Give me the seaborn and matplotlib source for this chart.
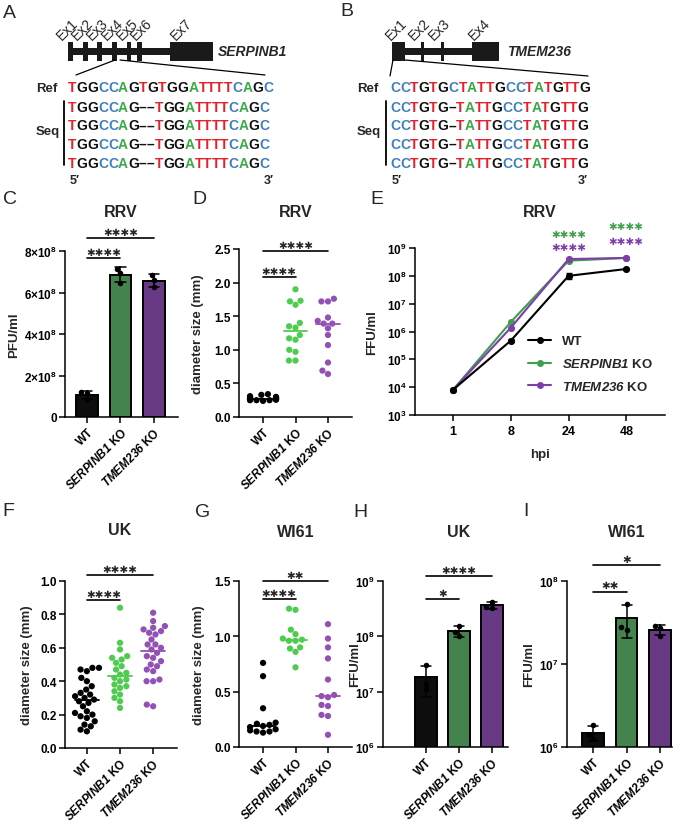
"""
Рисунок: нокаут SERPINB1 / TMEM236 и репликация вирусов (панели A-I)
"""

import warnings
import numpy as np
import pandas as pd
import matplotlib
matplotlib.use('Agg')
import matplotlib.pyplot as plt
import matplotlib.transforms as mtransforms
from matplotlib.lines import Line2D
from matplotlib.patches import Rectangle
from matplotlib.ticker import NullLocator
import seaborn as sns
warnings.filterwarnings('ignore')

# ---------------- данные ----------------
groups = ['WT', 'SERPINB1 KO', 'TMEM236 KO']
group_labels = ['WT', r'$\mathbfit{SERPINB1}$ KO', r'$\mathbfit{TMEM236}$ KO']

# A, B: референс и результаты секвенирования
serpinb1_ref = 'TGGCCAGTGTGGATTTTCAGC'
serpinb1_reads = ['TGGCCAG––TGGATTTTCAGC'] * 4
tmem236_ref = 'CCTGTGCTATTGCCTATGTTG'
tmem236_reads = ['CCTGTG–TATTGCCTATGTTG'] * 4

# C: RRV, PFU/ml
rrv_pfu_wt = [1.20e8, 1.15e8, 0.85e8]
rrv_pfu_serpinb1 = [7.15e8, 6.95e8, 6.45e8]
rrv_pfu_tmem236 = [6.85e8, 6.60e8, 6.25e8]

# D: RRV, диаметр бляшек (мм)
rrv_plaque_wt = [0.24, 0.25, 0.25, 0.25, 0.26, 0.26, 0.26, 0.27, 0.27, 0.27,
                 0.28, 0.28, 0.29, 0.29, 0.30, 0.31, 0.33, 0.34]
rrv_plaque_serpinb1 = [1.90, 1.67, 1.72, 1.73, 1.35, 1.40, 1.33, 1.17, 1.22,
                       1.15, 1.00, 0.97, 0.84, 0.84]
rrv_plaque_tmem236 = [1.76, 1.72, 1.72, 1.48, 1.43, 1.39, 1.39, 1.32, 1.22,
                      1.07, 0.81, 0.69, 0.64]

# E: кривая роста RRV, FFU/ml
hpi = ['1', '8', '24', '48']
rrv_growth_wt = [8.1e3, 4.7e5, 1.0e8, 1.76e8]
rrv_growth_wt_sd = [0.0, 0.6e5, 2.2e7, 1.2e7]
rrv_growth_serpinb1 = [8.1e3, 2.2e6, 3.5e8, 4.4e8]
rrv_growth_tmem236 = [8.1e3, 1.37e6, 4.0e8, 4.4e8]

# F: UK, диаметр бляшек (мм)
uk_plaque_wt = [0.48, 0.48, 0.47, 0.46, 0.42, 0.40, 0.37, 0.35, 0.33, 0.32,
                0.31, 0.30, 0.29, 0.28, 0.27, 0.25, 0.22, 0.21, 0.20, 0.19,
                0.18, 0.16, 0.14, 0.13, 0.11, 0.10]
uk_plaque_serpinb1 = [0.84, 0.63, 0.59, 0.55, 0.54, 0.53, 0.51, 0.49, 0.47,
                      0.45, 0.44, 0.42, 0.41, 0.40, 0.38, 0.37, 0.36, 0.34,
                      0.32, 0.30, 0.28, 0.24]
uk_plaque_tmem236 = [0.81, 0.76, 0.73, 0.72, 0.71, 0.70, 0.69, 0.68, 0.65,
                     0.62, 0.62, 0.60, 0.59, 0.57, 0.55, 0.54, 0.52, 0.50,
                     0.49, 0.47, 0.46, 0.41, 0.40, 0.40, 0.26, 0.25]

# G: WI61, диаметр бляшек (мм)
wi61_plaque_wt = [0.76, 0.64, 0.35, 0.22, 0.21, 0.20, 0.19, 0.18, 0.16,
                  0.15, 0.14, 0.14, 0.13]
wi61_plaque_serpinb1 = [1.24, 1.25, 1.06, 1.02, 0.98, 0.97, 0.96, 0.96,
                        0.90, 0.89, 0.86, 0.72]
wi61_plaque_tmem236 = [1.11, 0.98, 0.90, 0.80, 0.61, 0.47, 0.46, 0.45,
                       0.38, 0.37, 0.29, 0.28, 0.11]

# H: UK, FFU/ml
uk_ffu_wt = [3.0e7, 1.4e7, 1.1e7]
uk_ffu_serpinb1 = [1.55e8, 1.20e8, 1.02e8]
uk_ffu_tmem236 = [4.2e8, 3.4e8, 3.3e8]

# I: WI61, FFU/ml
wi61_ffu_wt = [1.82e6, 1.40e6, 1.25e6]
wi61_ffu_serpinb1 = [5.3e7, 2.8e7, 2.6e7]
wi61_ffu_tmem236 = [2.88e7, 2.70e7, 2.19e7]

# ---------------- стиль ----------------
bar_colors = {'WT': '#0d0d0d', 'SERPINB1 KO': '#3a8c47', 'TMEM236 KO': '#6b2d90'}
dot_colors = {'WT': '#000000', 'SERPINB1 KO': '#4fcc50', 'TMEM236 KO': '#9350b5'}
line_colors = {'WT': '#000000', 'SERPINB1 KO': '#3f9f4e', 'TMEM236 KO': '#7d3fa8'}
nt_colors = {'T': '#e5202a', 'C': '#3f7fc1', 'A': '#3aaa48', 'G': '#111111'}
nt_width = {'T': .611, 'G': .778, 'C': .722, 'A': .722, '–': .556}

sns.set_theme(style='ticks')
plt.rcParams['font.family'] = ['Liberation Sans', 'DejaVu Sans']
plt.rcParams.update({
    'mathtext.fontset': 'custom',
    'mathtext.rm': 'Liberation Sans',
    'mathtext.it': 'Liberation Sans:italic',
    'mathtext.bf': 'Liberation Sans:bold',
    'mathtext.bfit': 'Liberation Sans:italic:bold',
    'axes.linewidth': 1.1,
    'axes.edgecolor': 'black',
    'xtick.major.width': 1.1,
    'ytick.major.width': 1.1,
    'xtick.major.size': 4,
    'ytick.major.size': 4,
    'xtick.color': 'black',
    'ytick.color': 'black',
})

W, H = 685, 828
fig = plt.figure(figsize=(W / 100, H / 100), dpi=100)

# холст в пикселях для панелей A/B и букв
canvas = fig.add_axes([0, 0, 1, 1])
canvas.set_xlim(0, W)
canvas.set_ylim(H, 0)
canvas.axis('off')


def add_panel(x0, y0, x1, y1):
    return fig.add_axes([x0 / W, 1 - y1 / H, (x1 - x0) / W, (y1 - y0) / H])


def long_df(wt, serp, tmem):
    vals = [wt, serp, tmem]
    return pd.DataFrame({
        'group': np.repeat(groups, [len(v) for v in vals]),
        'value': np.concatenate(vals),
    })


def pow_label(base, exp):
    if base is None:
        return r'$\mathbf{10}^{\mathbf{%d}}$' % exp
    return r'%d×$\mathbf{10}^{\mathbf{%d}}$' % (base, exp)


def stars(n):
    return '✱' * n


def sig(ax, x1, x2, y, n):
    ax.plot([x1, x2], [y, y], color='black', lw=1.2, clip_on=False)
    ax.annotate(stars(n), xy=((x1 + x2) / 2, y), xytext=(0, 1),
                textcoords='offset points', ha='center', va='bottom',
                fontsize=7.5, fontfamily='DejaVu Sans', annotation_clip=False)


def finish(ax, title, title_y, ylabel, label_x, yticks, yticklabels, ylim, xlim):
    sns.despine(ax=ax)
    ax.set_xlim(*xlim)
    ax.set_ylim(*ylim)
    ax.set_yticks(yticks)
    ax.set_yticklabels(yticklabels, fontsize=8.5, fontweight='bold')
    ax.yaxis.set_minor_locator(NullLocator())
    ax.set_xticks(range(3))
    ax.set_xticklabels(group_labels, rotation=45, ha='right',
                       rotation_mode='anchor', fontsize=8.5, fontweight='bold')
    ax.set_xlabel('')
    ax.set_ylabel(ylabel, fontsize=9.5, fontweight='bold')
    ax.yaxis.set_label_coords(label_x, 0.5)
    ax.tick_params(axis='x', pad=2)
    ax.tick_params(axis='y', pad=2)
    trans = mtransforms.blended_transform_factory(ax.transData, ax.transAxes)
    ax.text(1, title_y, title, transform=trans, ha='center', va='center',
            fontsize=11.5, fontweight='bold')


def bar_panel(ax, wt, serp, tmem, log=False):
    df = long_df(wt, serp, tmem)
    sns.barplot(data=df, x='group', y='value', hue='group', order=groups,
                hue_order=groups, palette=bar_colors, errorbar='sd',
                capsize=0.3, err_kws={'color': 'black', 'linewidth': 1.1},
                edgecolor='black', linewidth=1.4, width=0.65, legend=False, ax=ax)
    if log:
        ax.set_yscale('log')
    sns.swarmplot(data=df, x='group', y='value', order=groups, color='black',
                  size=4, ax=ax)


def dot_panel(ax, wt, serp, tmem):
    df = long_df(wt, serp, tmem)
    sns.swarmplot(data=df, x='group', y='value', hue='group', order=groups,
                  hue_order=groups, palette=dot_colors, size=4.5, legend=False, ax=ax)
    med = df.groupby('group')['value'].median()
    for i, g in enumerate(groups):
        ax.plot([i - 0.36, i + 0.36], [med[g], med[g]], color=dot_colors[g], lw=1.3)


# ---------------- A, B ----------------
def draw_seq(x, y, seq, size=10):
    em = size * 100 / 72
    for ch in seq:
        canvas.text(x, y, ch, color=nt_colors.get(ch, '#111111'), fontsize=size,
                    fontweight='bold', ha='left', va='baseline')
        x += nt_width[ch] * em


def draw_gene(exons, label_x, names, gene, gene_x, zoom_lines, ref, reads,
              x_seq, x_lbl, x_bar, x3):
    canvas.add_patch(Rectangle((exons[0][0], 48.5), exons[-1][1] - exons[0][0], 7.5,
                               color='#1a1a1a', lw=0))
    for (a, b), lx, nm in zip(exons, label_x, names):
        canvas.add_patch(Rectangle((a, 43), b - a, 19, color='#1a1a1a', lw=0))
        canvas.text(lx, 41, nm, rotation=45, rotation_mode='anchor', ha='left',
                    va='baseline', fontsize=10)
    canvas.text(gene_x, 52, gene, fontsize=10, fontweight='bold', fontstyle='italic',
                va='center', ha='left')
    for (xa, ya), (xb, yb) in zoom_lines:
        canvas.plot([xa, xb], [ya, yb], color='black', lw=0.9)
    canvas.text(x_lbl, 92, 'Ref', fontsize=9.5, fontweight='bold', va='baseline')
    draw_seq(x_seq, 92, ref)
    for k, r in enumerate(reads):
        draw_seq(x_seq, 112 + k * 18.5, r)
    canvas.text(x_lbl, 135, 'Seq', fontsize=9.5, fontweight='bold', va='baseline')
    canvas.plot([x_bar, x_bar], [102, 166], color='black', lw=1.3)
    canvas.text(x_seq + 2, 184, '5′', fontsize=9, fontweight='bold', va='baseline')
    canvas.text(x3, 184, '3′', fontsize=9, fontweight='bold', va='baseline')


draw_gene([(68, 73), (83, 88), (97, 102), (112, 117), (127, 131), (137, 142), (170, 213)],
          [62, 77, 92, 107, 122, 136, 176],
          ['Ex1', 'Ex2', 'Ex3', 'Ex4', 'Ex5', 'Ex6', 'Ex7'],
          'SERPINB1', 218,
          [((115, 61), (76, 76)), ((120, 61), (265, 76))],
          serpinb1_ref, serpinb1_reads, 68, 36, 64, 264)

draw_gene([(392, 405), (421, 424), (441, 444), (472, 499)],
          [391, 414, 434, 474],
          ['Ex1', 'Ex2', 'Ex3', 'Ex4'],
          'TMEM236', 507,
          [((393, 61), (390, 77)), ((405, 61), (588, 77))],
          tmem236_ref, tmem236_reads, 390, 357, 386, 578)

for letter, (x, y) in {'A': (3, 13), 'B': (340, 12), 'C': (3, 200), 'D': (192, 200),
                       'E': (370, 200), 'F': (2, 512), 'G': (195, 513),
                       'H': (353, 513), 'I': (523, 512)}.items():
    canvas.text(x, y, letter, fontsize=14, va='center', ha='left')

# ---------------- C ----------------
ax = add_panel(65, 252, 178, 418)
bar_panel(ax, rrv_pfu_wt, rrv_pfu_serpinb1, rrv_pfu_tmem236)
finish(ax, 'RRV', 1.24, 'PFU/ml', -0.40,
       [0, 2e8, 4e8, 6e8, 8e8], ['0'] + [pow_label(b, 8) for b in (2, 4, 6, 8)],
       (0, 8e8), (-0.66, 2.72))
sig(ax, 0, 2, 8.63e8, 4)
sig(ax, 0, 1, 7.66e8, 4)

# ---------------- D ----------------
ax = add_panel(239, 250, 352, 418)
dot_panel(ax, rrv_plaque_wt, rrv_plaque_serpinb1, rrv_plaque_tmem236)
finish(ax, 'RRV', 1.226, 'diameter size (mm)', -0.31,
       np.arange(0, 2.51, 0.5), ['0.0', '0.5', '1.0', '1.5', '2.0', '2.5'],
       (0, 2.5), (-0.74, 2.74))
sig(ax, 0, 2, 2.47, 4)
sig(ax, 0, 1, 2.08, 4)

# ---------------- E ----------------
ax = add_panel(415, 249, 665, 416)
ax.set_yscale('log')
growth = pd.DataFrame({
    'hpi': hpi * 3,
    'value': rrv_growth_wt + rrv_growth_serpinb1 + rrv_growth_tmem236,
    'group': np.repeat(groups, len(hpi)),
})
sns.pointplot(data=growth, x='hpi', y='value', hue='group', order=hpi,
              hue_order=['SERPINB1 KO', 'TMEM236 KO', 'WT'], palette=line_colors,
              markers='o', markersize=4, linewidth=1.5, errorbar=None,
              legend=False, ax=ax)
ax.errorbar(np.arange(len(hpi)), rrv_growth_wt, yerr=rrv_growth_wt_sd, fmt='none',
            ecolor='black', elinewidth=1, capsize=2.5)
sns.despine(ax=ax)
ax.set_xlim(-0.66, 3.67)
ax.set_ylim(1e3, 1e9)
ax.set_yticks([10.0 ** e for e in range(3, 10)])
ax.set_yticklabels([pow_label(None, e) for e in range(3, 10)], fontsize=8.5, fontweight='bold')
ax.yaxis.set_minor_locator(NullLocator())
ax.tick_params(axis='y', pad=2)
ax.set_xticks(range(len(hpi)))
ax.set_xticklabels(hpi, fontsize=9, fontweight='bold')
ax.set_xlabel('hpi', fontsize=9.5, fontweight='bold')
ax.xaxis.set_label_coords(0.5, -0.195)
ax.set_ylabel('FFU/ml', fontsize=9.5, fontweight='bold')
ax.yaxis.set_label_coords(-0.148, 0.5)
ax.text(0.5, 1.22, 'RRV', transform=ax.transAxes, ha='center', va='center',
        fontsize=11.5, fontweight='bold')
trans = mtransforms.blended_transform_factory(ax.transData, ax.transAxes)
for x, yg, yp in [(2, 1.084, 1.006), (3, 1.132, 1.042)]:
    ax.text(x, yg, stars(4), transform=trans, ha='center', va='center', fontsize=7.5,
            fontfamily='DejaVu Sans', color=line_colors['SERPINB1 KO'])
    ax.text(x, yp, stars(4), transform=trans, ha='center', va='center', fontsize=7.5,
            fontfamily='DejaVu Sans', color=line_colors['TMEM236 KO'])
handles = [Line2D([], [], color=line_colors[g], marker='o', markersize=4, lw=1.5)
           for g in groups]
ax.legend(handles, group_labels, loc='lower right', bbox_to_anchor=(1.0, 0.06),
          frameon=False, handlelength=1.8, labelspacing=0.75,
          prop={'weight': 'bold', 'size': 9.5})

# ---------------- F ----------------
ax = add_panel(65, 582, 177, 749)
dot_panel(ax, uk_plaque_wt, uk_plaque_serpinb1, uk_plaque_tmem236)
finish(ax, 'UK', 1.31, 'diameter size (mm)', -0.286,
       np.arange(0, 1.01, 0.2), ['0.0', '0.2', '0.4', '0.6', '0.8', '1.0'],
       (0, 1.0), (-0.66, 2.72))
sig(ax, 0, 2, 1.036, 4)
sig(ax, 0, 1, 0.886, 4)

# ---------------- G ----------------
ax = add_panel(239, 582, 352, 748)
dot_panel(ax, wi61_plaque_wt, wi61_plaque_serpinb1, wi61_plaque_tmem236)
finish(ax, 'WI61', 1.30, 'diameter size (mm)', -0.30,
       [0, 0.5, 1.0, 1.5], ['0.0', '0.5', '1.0', '1.5'],
       (0, 1.5), (-0.74, 2.74))
sig(ax, 0, 2, 1.5, 2)
sig(ax, 0, 1, 1.337, 4)

# ---------------- H ----------------
ax = add_panel(383, 582, 508, 748)
bar_panel(ax, uk_ffu_wt, uk_ffu_serpinb1, uk_ffu_tmem236, log=True)
finish(ax, 'UK', 1.30, 'FFU/ml', -0.175,
       [1e6, 1e7, 1e8, 1e9], [pow_label(None, e) for e in range(6, 10)],
       (1e6, 1e9), (-1.3, 2.48))
sig(ax, 0, 2, 1.23e9, 4)
sig(ax, 0, 1, 4.7e8, 1)

# ---------------- I ----------------
ax = add_panel(567, 582, 672, 748)
bar_panel(ax, wi61_ffu_wt, wi61_ffu_serpinb1, wi61_ffu_tmem236, log=True)
finish(ax, 'WI61', 1.30, 'FFU/ml', -0.305,
       [1e6, 1e7, 1e8], [pow_label(None, e) for e in range(6, 9)],
       (1e6, 1e8), (-0.78, 2.36))
sig(ax, 0, 2, 1.55e8, 1)
sig(ax, 0, 1, 7.4e7, 2)

fig.savefig('out.png', dpi=100)
